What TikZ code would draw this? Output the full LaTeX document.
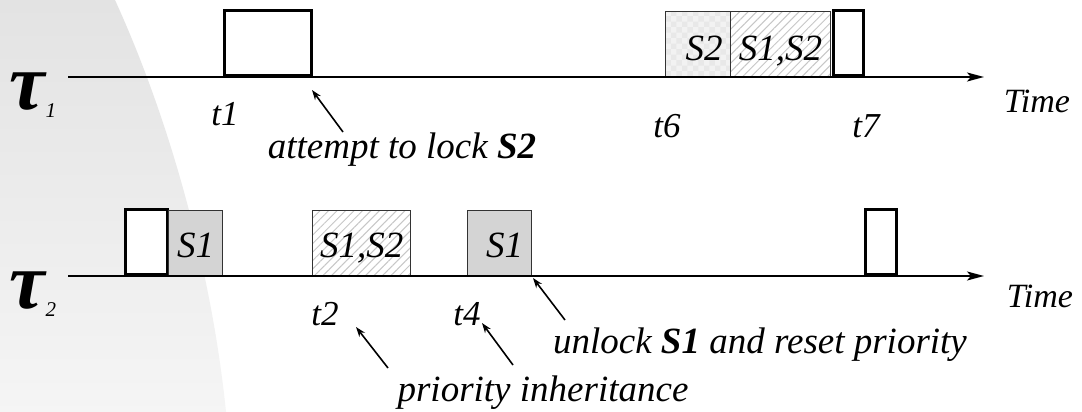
\documentclass[tikz,border=0pt]{standalone}
\usepackage{fontspec}
\setmainfont{Liberation Serif}
\usetikzlibrary{arrows.meta,patterns,patterns.meta}

\tikzset{
  run/.style={draw=black, line width=3.2pt, fill=white, inner sep=0pt, anchor=south west},
  crit/.style={draw=black!80, line width=1.4pt, inner sep=0pt, anchor=south west},
  marble/.style={crit, fill=black!17},
  hatched/.style={crit, preaction={fill=white},
    pattern={Lines[angle=45,distance=6pt,line width=1pt]}, pattern color=black!22},
  checked/.style={crit, preaction={fill=black!5}, pattern=checkerboard, pattern color=black!9},
  axis/.style={line width=2pt, -{Stealth[length=17pt,width=9pt,inset=4pt]}},
  note/.style={line width=1.6pt, -{Stealth[length=10pt,width=7pt]}},
  lbl/.style={font=\itshape\fontsize{37}{42}\selectfont, inner sep=0pt, anchor=base},
  tlbl/.style={font=\itshape\fontsize{35}{40}\selectfont, inner sep=0pt, anchor=base},
  timelbl/.style={font=\itshape\fontsize{34}{40}\selectfont, inner sep=0pt, anchor=base},
  seg/.style={font=\itshape\fontsize{37}{42}\selectfont, inner sep=0pt, anchor=base},
  task/.style={font=\bfseries\itshape\fontsize{80}{84}\selectfont, inner sep=0pt, anchor=base west},
}
\newcommand{\tasksub}[1]{\kern1pt\raisebox{-8pt}{\fontsize{21}{24}\mdseries\itshape #1}}

\begin{document}
\begin{tikzpicture}[x=1pt,y=-1pt]
\useasboundingbox (0,0) rectangle (1082,412);
\fill[white] (0,0) rectangle (1082,412);

% soft grey backdrop on the left
\shade[top color=black!11, bottom color=black!4]
  (0,0) -- (115,0) .. controls (172,125) and (212,275) .. (226,412) -- (0,412) -- cycle;

% task names
\node[task] (tau1) at (9,110) {τ\tasksub{1}};
\node[task] (tau2) at (9,308) {τ\tasksub{2}};

% time axes
\coordinate (a1s) at (68,77);
\coordinate (a1e) at (984,77);
\coordinate (a2s) at (68,276);
\coordinate (a2e) at (984,276);

% task 1 execution
\node[run, minimum width=87pt, minimum height=65pt] (r1a) at (223,77) {};
\node[checked, minimum width=65pt, minimum height=65pt] (r1b) at (665,77) {};
\node[hatched, minimum width=100pt, minimum height=65pt] (r1c) at (730,77) {};
\node[run, minimum width=30pt, minimum height=65pt] (r1d) at (832,77) {};

% task 2 execution
\node[run, minimum width=42pt, minimum height=65pt] (r2a) at (124,276) {};
\node[marble, minimum width=54pt, minimum height=65pt] (r2b) at (168,276) {};
\node[hatched, minimum width=98pt, minimum height=65pt] (r2c) at (312,276) {};
\node[marble, minimum width=64pt, minimum height=65pt] (r2d) at (467,276) {};
\node[run, minimum width=31pt, minimum height=65pt] (r2e) at (864,276) {};

\draw[axis] (a1s) -- (a1e);
\draw[axis] (a2s) -- (a2e);

% semaphore labels
\node[seg] (s1b) at ([xshift=6pt,yshift=17pt]r1b.south) {S2};
\node[seg] (s1c) at ([yshift=17pt]r1c.south) {S1,S2};
\node[seg] (s2b) at ([yshift=19pt]r2b.south) {S1};
\node[seg] (s2c) at ([yshift=19pt]r2c.south) {S1,S2};
\node[seg] (s2d) at ([xshift=5pt,yshift=19pt]r2d.south) {S1};

% time instants
\node[tlbl] (t1) at (225,125) {t1};
\node[tlbl] (t6) at (667,137) {t6};
\node[tlbl] (t7) at (866,137) {t7};
\node[tlbl] (t2) at (325,325) {t2};
\node[tlbl] (t4) at (467,325) {t4};
\node[timelbl] (time1) at (1037,113) {Time};
\node[timelbl] (time2) at (1040,307) {Time};

% annotations
\node[lbl] (attempt) at (402,158) {attempt to lock \textbf{S2}};
\node[lbl] (unlock) at (760,353) {unlock \textbf{S1} and reset priority};
\node[lbl] (inherit) at (543,401) {priority inheritance};

\coordinate (n1s) at (343,132);
\coordinate (n1e) at (312,90);
\coordinate (n2s) at (565,320);
\coordinate (n2e) at (533,278);
\coordinate (n3s) at (388,368);
\coordinate (n3e) at (356,327);
\coordinate (n4s) at (513,365);
\coordinate (n4e) at (482,323);

\draw[note] (n1s) -- (n1e);
\draw[note] (n2s) -- (n2e);
\draw[note] (n3s) -- (n3e);
\draw[note] (n4s) -- (n4e);
\end{tikzpicture}
\end{document}
